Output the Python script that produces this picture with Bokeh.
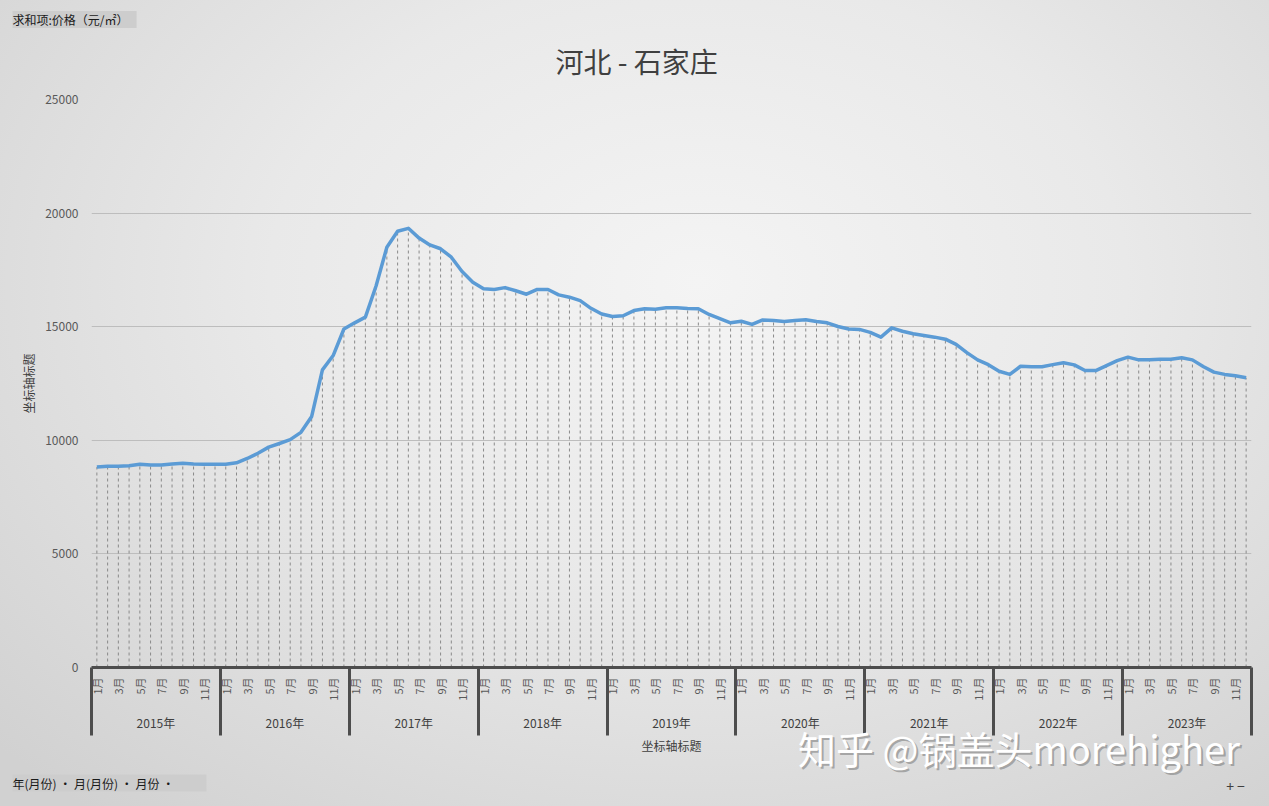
from math import pi
from bokeh.plotting import figure
from bokeh.models import Range1d, FixedTicker, LinearAxis, Title, ColumnDataSource
from bokeh.embed import file_html
from bokeh.resources import INLINE

FONT = "Noto Sans CJK SC"

chart_title = "河北 - 石家庄"
field_button = "求和项:价格（元/㎡）"
axis_buttons = "年(月份)   ·   月(月份)   ·   月份   ·"
zoom_buttons = "+   −"
axis_title = "坐标轴标题"
watermark = "知乎 @锅盖头morehigher"

years = ["2015年", "2016年", "2017年", "2018年", "2019年", "2020年", "2021年", "2022年", "2023年"]
month_labels = ["1月", "2月", "3月", "4月", "5月", "6月", "7月", "8月", "9月", "10月", "11月", "12月"]

price_2015 = [8820, 8860, 8860, 8880, 8950, 8910, 8910, 8960, 8990, 8960, 8950, 8950]
price_2016 = [8950, 9010, 9200, 9430, 9700, 9860, 10030, 10350, 11050, 13100, 13730, 14900]
price_2017 = [15170, 15420, 16800, 18500, 19200, 19330, 18900, 18600, 18430, 18060, 17430, 16960]
price_2018 = [16670, 16640, 16720, 16580, 16430, 16640, 16640, 16400, 16300, 16150, 15810, 15560]
price_2019 = [15450, 15480, 15710, 15790, 15770, 15830, 15830, 15800, 15790, 15540, 15350, 15170]
price_2020 = [15240, 15100, 15300, 15270, 15230, 15270, 15310, 15230, 15170, 15010, 14900, 14880]
price_2021 = [14750, 14540, 14950, 14800, 14690, 14610, 14540, 14450, 14220, 13860, 13540, 13330]
price_2022 = [13040, 12900, 13260, 13240, 13240, 13330, 13410, 13320, 13070, 13070, 13290, 13510]
price_2023 = [13660, 13540, 13540, 13570, 13570, 13630, 13540, 13250, 13000, 12900, 12840, 12750]

yticks = [0, 5000, 10000, 15000, 20000, 25000]

prices = (price_2015 + price_2016 + price_2017 + price_2018 + price_2019 +
          price_2020 + price_2021 + price_2022 + price_2023)
n = len(prices)
xs = list(range(n))
src = ColumnDataSource(dict(x=xs, price=prices))

p = figure(width=1269, height=806, output_backend="svg", toolbar_location=None, title=None,
           x_range=Range1d(-0.5, n - 0.5), y_range=Range1d(0, 25000),
           min_border_left=91, min_border_right=18, min_border_top=99, min_border_bottom=139)
p.styles = {"background": "radial-gradient(ellipse 75% 85% at 55% 35%, #f4f4f4 0%, #e9e9e9 45%, #d1d1d1 100%)"}
p.background_fill_alpha = 0
p.border_fill_alpha = 0
p.outline_line_color = None

def title(text, loc, offset, standoff, size, color="#404040", **kw):
    p.add_layout(Title(text=text, align="left", offset=offset, standoff=standoff,
                       text_font=FONT, text_font_size=size, text_font_style="normal",
                       text_color=color, **kw), loc)

# titles above (first = nearest the frame)
title(chart_title, "above", 464, 38, "28px")
title(" " + field_button + "  ", "above", -79, -17, "12px", "#1a1a1a", background_fill_color="#cdcdcd")

p.xgrid.visible = False
p.ygrid.grid_line_color = "#bdbdbd"
p.ygrid.grid_line_width = 1
p.ygrid.ticker = FixedTicker(ticks=yticks)

# y axis
p.yaxis.ticker = FixedTicker(ticks=yticks)
p.yaxis.axis_line_color = None
p.yaxis.major_tick_line_color = None
p.yaxis.minor_tick_line_color = None
p.yaxis.major_label_standoff = 7
p.yaxis.major_label_text_color = "#595959"
p.yaxis.major_label_text_font = FONT
p.yaxis.major_label_text_font_size = "12px"
p.yaxis.axis_label = axis_title
p.yaxis.axis_label_text_font = FONT
p.yaxis.axis_label_text_font_style = "normal"
p.yaxis.axis_label_text_font_size = "12px"
p.yaxis.axis_label_text_color = "#404040"
p.yaxis.axis_label_standoff = 5

# x axis: odd month labels, year separators as minor ticks
label_ticks = [i for i in xs if i % 12 % 2 == 0]
boundaries = [12 * k - 0.5 for k in range(len(years) + 1)]
p.xaxis.ticker = FixedTicker(ticks=label_ticks, minor_ticks=boundaries)
p.xaxis.major_label_overrides = {i: month_labels[i % 12] for i in label_ticks}
p.xaxis.major_label_orientation = pi / 2
p.xaxis.major_label_standoff = -58
p.xaxis.major_label_text_font = FONT
p.xaxis.major_label_text_font_size = "11px"
p.xaxis.major_label_text_color = "#595959"
p.xaxis.major_tick_line_color = None
p.xaxis.major_tick_out = 0
p.xaxis.major_tick_in = 0
p.xaxis.axis_line_color = "#4d4d4d"
p.xaxis.axis_line_width = 3
p.xaxis.minor_tick_line_color = "#4d4d4d"
p.xaxis.minor_tick_line_width = 3
p.xaxis.minor_tick_out = 68
p.xaxis.minor_tick_in = 0

def text_axis(ticks, labels, standoff, size, color, **kw):
    ax = LinearAxis(ticker=FixedTicker(ticks=ticks, minor_ticks=[]),
                    major_label_overrides={t: s for t, s in zip(ticks, labels)},
                    axis_line_color=None, major_tick_line_color=None,
                    minor_tick_line_color=None, major_tick_out=0, major_tick_in=0,
                    major_label_standoff=standoff, major_label_text_font=FONT,
                    major_label_text_font_size=size, major_label_text_color=color, **kw)
    p.add_layout(ax, "below")

# year level of the category axis, with the axis title
year_ticks = [12 * k + 5.5 for k in range(len(years))]
text_axis(year_ticks, years, 10, "12px", "#404040",
          axis_label=axis_title, axis_label_text_font=FONT,
          axis_label_text_font_style="normal", axis_label_text_font_size="12px",
          axis_label_text_color="#404040", axis_label_standoff=3)

# watermark: soft shadow first, white text over it
text_axis([86.04], [watermark], -35, "38px", "#6f6f6f", major_label_text_alpha=0.5)
text_axis([85.85], [watermark], -60, "38px", "#ffffff")

# pivot field buttons
title(" " + axis_buttons + " ", "below", -79, -14, "12px", "#1a1a1a", background_fill_color="#cdcdcd")
text_axis([106.3], [zoom_buttons], -9, "14px", "#404040")

# drop lines and line
p.segment(x0="x", y0=0, x1="x", y1="price", source=src,
          line_color="#8a8a8a", line_width=1, line_dash="3 3")
p.line("x", "price", source=src, line_color="#5b9bd5", line_width=3.5, line_join="round")

open("out.html", "w").write(file_html(p, INLINE))
